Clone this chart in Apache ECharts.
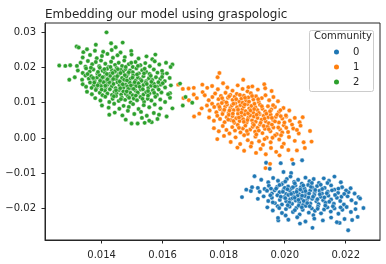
<!DOCTYPE html>
<html><head><meta charset="utf-8">
<script src="https://cdn.jsdelivr.net/npm/echarts@6/dist/echarts.min.js"></script>
<style>html,body{margin:0;padding:0;background:#fff}#c{width:386px;height:264px}</style>
</head><body><div id="c"></div>
<script>
const titleText = "Embedding our model using graspologic";
const legendTitle = "Community";
const categories = ["0", "1", "2"];
const xTicks = [0.014, 0.016, 0.018, 0.020, 0.022];
const yTicks = [-0.02, -0.01, 0.00, 0.01, 0.02, 0.03];

const community0 = [
[0.01860,-0.0167],[0.01987,-0.0071],[0.02028,-0.0073],[0.02057,-0.0063],[0.01939,-0.0070],[0.01951,-0.0087],[0.01996,-0.0096],[0.02021,-0.0099],[0.02258,-0.0198],[0.02242,-0.0167],[0.02209,-0.0153],[0.02239,-0.0223],[0.02091,-0.0254],[0.02208,-0.0261],[0.02050,-0.0242],[0.01979,-0.0233],[0.02180,-0.0240],[0.01901,-0.0108],[0.01889,-0.0150],[0.01874,-0.0146],[0.01912,-0.0141],
[0.01923,-0.0118],[0.01946,-0.0125],[0.01962,-0.0113],[0.01978,-0.0121],[0.01993,-0.0128],[0.02007,-0.0116],[0.02019,-0.0109],[0.02031,-0.0124],[0.02044,-0.0118],[0.02056,-0.0129],[0.02068,-0.0112],[0.02081,-0.0122],[0.02095,-0.0116],[0.02112,-0.0127],[0.02128,-0.0114],[0.02145,-0.0121],[0.02163,-0.0109],[0.02184,-0.0125],
[0.01893,-0.0139],[0.01918,-0.0152],[0.01934,-0.0144],[0.01948,-0.0135],[0.01958,-0.0157],[0.01967,-0.0148],[0.01975,-0.0138],[0.01983,-0.0153],[0.01990,-0.0131],[0.01997,-0.0145],[0.02004,-0.0158],[0.02011,-0.0137],[0.02017,-0.0149],[0.02023,-0.0142],[0.02029,-0.0155],[0.02035,-0.0134],[0.02041,-0.0147],[0.02047,-0.0159],[0.02053,-0.0139],[0.02059,-0.0151],[0.02065,-0.0143],[0.02071,-0.0156],[0.02077,-0.0133],[0.02084,-0.0148],[0.02091,-0.0140],[0.02098,-0.0154],[0.02106,-0.0136],[0.02114,-0.0149],[0.02122,-0.0157],[0.02131,-0.0141],[0.02141,-0.0152],[0.02152,-0.0134],[0.02163,-0.0146],[0.02175,-0.0155],[0.02188,-0.0139],[0.02201,-0.0148],[0.02216,-0.0142],[0.02229,-0.0157],[0.01942,-0.0149],[0.02000,-0.0141],
[0.01912,-0.0172],[0.01931,-0.0165],[0.01946,-0.0178],[0.01958,-0.0169],[0.01968,-0.0184],[0.01976,-0.0162],[0.01984,-0.0175],[0.01991,-0.0188],[0.01998,-0.0167],[0.02005,-0.0179],[0.02012,-0.0161],[0.02018,-0.0173],[0.02024,-0.0186],[0.02030,-0.0166],[0.02036,-0.0177],[0.02042,-0.0163],[0.02048,-0.0182],[0.02054,-0.0171],[0.02060,-0.0189],[0.02066,-0.0164],[0.02072,-0.0176],[0.02078,-0.0168],[0.02084,-0.0185],[0.02090,-0.0172],[0.02097,-0.0161],[0.02104,-0.0179],[0.02111,-0.0187],[0.02118,-0.0166],[0.02126,-0.0176],[0.02134,-0.0183],[0.02143,-0.0163],[0.02152,-0.0174],[0.02161,-0.0186],[0.02171,-0.0169],[0.02182,-0.0178],[0.02194,-0.0188],[0.02206,-0.0165],[0.02219,-0.0176],[0.02233,-0.0184],[0.02247,-0.0171],[0.02026,-0.0170],[0.02069,-0.0181],
[0.01943,-0.0196],[0.01961,-0.0205],[0.01977,-0.0193],[0.01991,-0.0212],[0.02004,-0.0201],[0.02016,-0.0194],[0.02027,-0.0209],[0.02038,-0.0198],[0.02049,-0.0216],[0.02059,-0.0203],[0.02069,-0.0192],[0.02079,-0.0211],[0.02089,-0.0199],[0.02099,-0.0206],[0.02109,-0.0194],[0.02119,-0.0213],[0.02129,-0.0202],[0.02140,-0.0196],[0.02151,-0.0208],[0.02163,-0.0199],[0.02176,-0.0214],[0.02189,-0.0203],[0.02203,-0.0195],[0.02217,-0.0209],[0.02232,-0.0201],[0.02046,-0.0191],[0.02094,-0.0218],[0.02003,-0.0219],
[0.01978,-0.0226],[0.02012,-0.0231],[0.02041,-0.0224],[0.02068,-0.0236],[0.02097,-0.0228],[0.02125,-0.0233],[0.02152,-0.0225],[0.02171,-0.0238],[0.02196,-0.0229],[0.02221,-0.0232],
[0.01972,-0.0143],[0.01987,-0.0166],[0.01994,-0.0152],[0.02002,-0.0170],[0.02009,-0.0145],[0.02015,-0.0182],[0.02021,-0.0158],[0.02027,-0.0139],[0.02033,-0.0169],[0.02039,-0.0152],[0.02045,-0.0175],[0.02051,-0.0146],[0.02057,-0.0163],[0.02062,-0.0178],[0.02068,-0.0150],[0.02074,-0.0184],[0.02080,-0.0157],[0.02086,-0.0138],[0.02093,-0.0166],[0.02100,-0.0147],[0.02107,-0.0173],[0.02115,-0.0159],[0.02123,-0.0144],[0.02130,-0.0168],[0.02138,-0.0156],[0.02146,-0.0180],[0.02155,-0.0148],[0.02165,-0.0161],[0.02176,-0.0143],[0.02186,-0.0166],[0.01953,-0.0162],[0.01961,-0.0182],[0.01955,-0.0143],[0.01982,-0.0198],[0.02010,-0.0190],[0.02033,-0.0204],[0.02056,-0.0196],[0.02082,-0.0193],[0.02108,-0.0200],[0.02133,-0.0191],[0.02158,-0.0193],[0.02183,-0.0196],[0.02033,-0.0128],[0.02061,-0.0134],[0.02089,-0.0127],[0.02118,-0.0132],[0.02140,-0.0127],[0.02002,-0.0123],[0.01983,-0.0133],[0.02195,-0.0158]
];

const community1 = [
[0.01786,0.0184],[0.01864,0.0165],[0.01933,0.0152],[0.01780,0.0172],[0.01881,0.0144],[0.01666,0.0139],[0.01685,0.0140],[0.01702,0.0142],[0.01730,0.0151],[0.01746,0.0142],[0.01731,0.0130],[0.01702,0.0123],[0.01668,0.0113],[0.01686,0.0107],[0.01703,0.0061],[0.01720,0.0069],[0.01651,0.0151],[0.02088,-0.0010],[0.02083,0.0020],[0.02062,-0.0012],[0.02059,0.0059],[0.02066,-0.0028],[0.02024,-0.0061],[0.01983,-0.0049],[0.01937,-0.0085],[0.01952,-0.0073],[0.02040,-0.0035],[0.02005,0.0061],
[0.01762,0.0147],[0.01781,0.0138],[0.01798,0.0155],[0.01812,0.0143],[0.01829,0.0134],[0.01846,0.0149],[0.01862,0.0139],[0.01878,0.0132],[0.01894,0.0146],[0.01912,0.0137],[0.01936,0.0141],[0.01957,0.0133],
[0.01712,0.0113],[0.01738,0.0121],[0.01751,0.0107],[0.01763,0.0116],[0.01772,0.0126],[0.01783,0.0110],[0.01791,0.0119],[0.01799,0.0104],[0.01806,0.0128],[0.01814,0.0114],[0.01822,0.0122],[0.01829,0.0108],[0.01836,0.0117],[0.01843,0.0125],[0.01851,0.0103],[0.01858,0.0112],[0.01866,0.0120],[0.01873,0.0106],[0.01881,0.0115],[0.01889,0.0127],[0.01897,0.0109],[0.01906,0.0118],[0.01915,0.0102],[0.01925,0.0113],[0.01937,0.0121],[0.01949,0.0107],[0.01963,0.0116],[0.01978,0.0104],
[0.01728,0.0084],[0.01745,0.0092],[0.01754,0.0078],[0.01762,0.0097],[0.01769,0.0088],[0.01776,0.0073],[0.01782,0.0094],[0.01788,0.0082],[0.01794,0.0099],[0.01799,0.0076],[0.01805,0.0089],[0.01811,0.0095],[0.01816,0.0071],[0.01822,0.0085],[0.01827,0.0092],[0.01833,0.0079],[0.01838,0.0098],[0.01844,0.0087],[0.01849,0.0073],[0.01855,0.0093],[0.01861,0.0081],[0.01866,0.0089],[0.01872,0.0076],[0.01878,0.0096],[0.01884,0.0084],[0.01891,0.0091],[0.01897,0.0072],[0.01904,0.0087],[0.01911,0.0079],[0.01919,0.0094],[0.01927,0.0083],[0.01936,0.0075],[0.01945,0.0090],[0.01956,0.0081],[0.01968,0.0088],[0.01981,0.0074],[0.01996,0.0085],[0.02015,0.0078],
[0.01752,0.0058],[0.01768,0.0049],[0.01779,0.0063],[0.01788,0.0054],[0.01796,0.0068],[0.01803,0.0045],[0.01810,0.0059],[0.01817,0.0066],[0.01823,0.0051],[0.01829,0.0062],[0.01835,0.0043],[0.01841,0.0056],[0.01847,0.0069],[0.01852,0.0048],[0.01858,0.0061],[0.01864,0.0053],[0.01869,0.0067],[0.01875,0.0044],[0.01881,0.0058],[0.01887,0.0064],[0.01893,0.0050],[0.01899,0.0061],[0.01905,0.0046],[0.01911,0.0057],[0.01918,0.0068],[0.01924,0.0052],[0.01931,0.0063],[0.01938,0.0047],[0.01946,0.0059],[0.01954,0.0066],[0.01962,0.0051],[0.01971,0.0060],[0.01981,0.0044],[0.01992,0.0055],[0.02004,0.0064],[0.02017,0.0049],[0.02033,0.0057],[0.02049,0.0045],
[0.01768,0.0028],[0.01784,0.0019],[0.01797,0.0034],[0.01809,0.0023],[0.01819,0.0013],[0.01828,0.0031],[0.01837,0.0021],[0.01846,0.0037],[0.01855,0.0016],[0.01863,0.0027],[0.01871,0.0035],[0.01879,0.0012],[0.01887,0.0024],[0.01895,0.0032],[0.01903,0.0018],[0.01911,0.0029],[0.01919,0.0038],[0.01927,0.0014],[0.01935,0.0026],[0.01944,0.0033],[0.01953,0.0019],[0.01963,0.0030],[0.01974,0.0011],[0.01985,0.0024],[0.01997,0.0036],[0.02011,0.0017],[0.02028,0.0027],[0.02046,0.0013],
[0.01779,-0.0003],[0.01801,0.0006],[0.01823,-0.0011],[0.01839,0.0002],[0.01854,-0.0017],[0.01867,0.0008],[0.01879,-0.0006],[0.01892,-0.0014],[0.01904,0.0004],[0.01916,-0.0009],[0.01929,-0.0019],[0.01941,0.0001],[0.01954,-0.0012],[0.01968,0.0007],[0.01982,-0.0004],[0.01997,-0.0016],[0.02014,0.0003],[0.02033,-0.0008],
[0.01845,-0.0027],[0.01867,-0.0036],[0.01889,-0.0024],[0.01906,-0.0042],[0.01921,-0.0031],[0.01938,-0.0046],[0.01955,-0.0028],[0.01972,-0.0039],[0.01991,-0.0025],[0.02012,-0.0034],
[0.01795,0.0113],[0.01809,0.0101],[0.01818,0.0118],[0.01832,0.0097],[0.01841,0.0110],[0.01853,0.0122],[0.01862,0.0100],[0.01870,0.0114],[0.01883,0.0103],[0.01893,0.0119],[0.01901,0.0097],[0.01913,0.0110],[0.01786,0.0088],[0.01802,0.0080],[0.01819,0.0078],[0.01830,0.0069],[0.01847,0.0080],[0.01858,0.0072],[0.01869,0.0095],[0.01880,0.0070],[0.01888,0.0078],[0.01900,0.0082],[0.01915,0.0071],[0.01925,0.0090],[0.01940,0.0069],[0.01952,0.0076],[0.01962,0.0093],[0.01975,0.0066],[0.01986,0.0079],[0.01815,0.0052],[0.01832,0.0048],[0.01850,0.0058],[0.01866,0.0046],[0.01878,0.0051],[0.01896,0.0041],[0.01908,0.0066],[0.01921,0.0043],[0.01934,0.0055],[0.01948,0.0042],[0.01958,0.0057],[0.01968,0.0047],[0.01987,0.0062],[0.01999,0.0044],[0.01850,0.0029],[0.01876,0.0020],[0.01899,0.0037],[0.01915,0.0021],[0.01931,0.0034],[0.01948,0.0025],[0.01958,0.0038],[0.01979,0.0030],[0.01992,0.0016],[0.02005,0.0029],[0.01907,0.0010],[0.01934,-0.0003],[0.01960,0.0001],[0.01988,0.0008],[0.02024,0.0038],[0.02040,0.0023],[0.02052,0.0035]
];

const community2 = [
[0.01416,0.0299],[0.01261,0.0205],[0.01281,0.0204],[0.01294,0.0165],[0.01319,0.0204],[0.01318,0.0259],[0.01325,0.0256],[0.01340,0.0243],[0.01381,0.0264],[0.01431,0.0268],[0.01469,0.0270],[0.01446,0.0257],[0.01576,0.0236],[0.01632,0.0208],[0.01600,0.0182],[0.01657,0.0154],[0.01632,0.0084],[0.01613,0.0061],[0.01425,0.0066],[0.01498,0.0041],[0.01518,0.0041],[0.01564,0.0045],[0.01624,0.0127],[0.01624,0.0114],[0.01675,0.0116],[0.01666,0.0092],[0.01697,0.0100],
[0.01352,0.0251],[0.01378,0.0247],[0.01405,0.0244],[0.01433,0.0249],[0.01462,0.0242],[0.01497,0.0246],
[0.01338,0.0228],[0.01362,0.0235],[0.01384,0.0226],[0.01401,0.0232],[0.01419,0.0238],[0.01437,0.0227],[0.01452,0.0234],[0.01476,0.0229],[0.01498,0.0236],[0.01521,0.0225],[0.01547,0.0231],[0.01566,0.0223],
[0.01297,0.0206],[0.01331,0.0213],[0.01347,0.0202],[0.01355,0.0218],[0.01369,0.0209],[0.01381,0.0215],[0.01392,0.0203],[0.01398,0.0219],[0.01412,0.0210],[0.01423,0.0201],[0.01431,0.0216],[0.01444,0.0207],[0.01456,0.0213],[0.01467,0.0204],[0.01474,0.0219],[0.01489,0.0209],[0.01502,0.0201],[0.01511,0.0215],[0.01527,0.0206],[0.01543,0.0212],[0.01558,0.0203],[0.01574,0.0217],[0.01589,0.0208],[0.01611,0.0213],[0.01626,0.0201],
[0.01322,0.0191],[0.01338,0.0184],[0.01349,0.0197],[0.01361,0.0188],[0.01373,0.0194],[0.01386,0.0182],[0.01394,0.0199],[0.01403,0.0190],[0.01411,0.0185],[0.01418,0.0196],[0.01427,0.0181],[0.01434,0.0192],[0.01441,0.0187],[0.01449,0.0198],[0.01457,0.0183],[0.01463,0.0193],[0.01471,0.0188],[0.01478,0.0195],[0.01486,0.0181],[0.01493,0.0191],[0.01502,0.0186],[0.01514,0.0197],[0.01522,0.0183],[0.01533,0.0192],[0.01546,0.0187],[0.01557,0.0181],[0.01571,0.0194],[0.01583,0.0185],[0.01598,0.0190],[0.01614,0.0183],
[0.01312,0.0172],[0.01336,0.0165],[0.01347,0.0177],[0.01358,0.0168],[0.01366,0.0175],[0.01377,0.0162],[0.01385,0.0171],[0.01393,0.0178],[0.01399,0.0166],[0.01407,0.0173],[0.01414,0.0161],[0.01421,0.0169],[0.01428,0.0176],[0.01435,0.0164],[0.01442,0.0172],[0.01448,0.0167],[0.01455,0.0179],[0.01461,0.0162],[0.01467,0.0170],[0.01474,0.0165],[0.01481,0.0174],[0.01488,0.0160],[0.01495,0.0168],[0.01503,0.0177],[0.01511,0.0163],[0.01519,0.0171],[0.01528,0.0166],[0.01537,0.0175],[0.01546,0.0161],[0.01555,0.0169],[0.01566,0.0164],[0.01578,0.0172],[0.01592,0.0167],[0.01607,0.0161],[0.01623,0.0170],
[0.01338,0.0152],[0.01349,0.0145],[0.01362,0.0157],[0.01374,0.0149],[0.01383,0.0141],[0.01391,0.0154],[0.01398,0.0147],[0.01406,0.0158],[0.01413,0.0143],[0.01419,0.0151],[0.01426,0.0156],[0.01433,0.0146],[0.01439,0.0153],[0.01446,0.0141],[0.01452,0.0158],[0.01459,0.0149],[0.01465,0.0155],[0.01472,0.0143],[0.01478,0.0151],[0.01485,0.0146],[0.01492,0.0157],[0.01499,0.0141],[0.01506,0.0152],[0.01513,0.0147],[0.01521,0.0155],[0.01529,0.0144],[0.01537,0.0150],[0.01545,0.0157],[0.01553,0.0142],[0.01562,0.0148],[0.01571,0.0154],[0.01582,0.0145],[0.01594,0.0151],[0.01608,0.0143],[0.01627,0.0149],
[0.01352,0.0131],[0.01368,0.0124],[0.01381,0.0136],[0.01394,0.0128],[0.01403,0.0121],[0.01411,0.0134],[0.01419,0.0126],[0.01427,0.0138],[0.01434,0.0122],[0.01442,0.0131],[0.01449,0.0127],[0.01457,0.0136],[0.01464,0.0123],[0.01471,0.0132],[0.01479,0.0125],[0.01487,0.0139],[0.01494,0.0128],[0.01502,0.0121],[0.01511,0.0134],[0.01519,0.0127],[0.01528,0.0137],[0.01537,0.0123],[0.01546,0.0130],[0.01557,0.0126],[0.01568,0.0135],[0.01581,0.0122],[0.01596,0.0129],[0.01618,0.0124],
[0.01379,0.0113],[0.01396,0.0106],[0.01412,0.0117],[0.01425,0.0102],[0.01436,0.0111],[0.01447,0.0119],[0.01456,0.0105],[0.01466,0.0114],[0.01477,0.0108],[0.01486,0.0118],[0.01495,0.0101],[0.01505,0.0112],[0.01516,0.0107],[0.01527,0.0116],[0.01539,0.0103],[0.01551,0.0111],[0.01563,0.0106],[0.01576,0.0117],[0.01592,0.0109],[0.01608,0.0102],
[0.01401,0.0092],[0.01423,0.0086],[0.01441,0.0097],[0.01458,0.0083],[0.01472,0.0091],[0.01489,0.0088],[0.01503,0.0096],[0.01521,0.0082],[0.01538,0.0093],[0.01556,0.0087],[0.01574,0.0095],[0.01593,0.0084],
[0.01443,0.0072],[0.01468,0.0064],[0.01486,0.0077],[0.01507,0.0068],[0.01529,0.0074],[0.01548,0.0063],[0.01571,0.0071],[0.01588,0.0066],
[0.01479,0.0052],[0.01532,0.0057],[0.01556,0.0049],[0.01583,0.0054],[0.01541,0.0043],
[0.01403,0.0172],[0.01417,0.0181],[0.01425,0.0158],[0.01438,0.0167],[0.01444,0.0189],[0.01451,0.0175],[0.01459,0.0160],[0.01462,0.0184],[0.01469,0.0152],[0.01476,0.0178],[0.01483,0.0163],[0.01489,0.0186],[0.01496,0.0149],[0.01501,0.0171],[0.01508,0.0158],[0.01516,0.0180],[0.01524,0.0145],[0.01531,0.0162],[0.01539,0.0183],[0.01548,0.0153],[0.01409,0.0195],[0.01395,0.0162],[0.01388,0.0187],[0.01372,0.0170],[0.01365,0.0199],[0.01354,0.0181],[0.01429,0.0201],[0.01447,0.0135],[0.01461,0.0141],[0.01482,0.0132],[0.01505,0.0139],[0.01518,0.0129],[0.01535,0.0138],[0.01552,0.0133],[0.01563,0.0159],[0.01575,0.0146],[0.01586,0.0158],[0.01561,0.0176],[0.01541,0.0196],[0.01519,0.0204],[0.01497,0.0213],[0.01479,0.0201],[0.01453,0.0195],[0.01436,0.0184],[0.01419,0.0166],[0.01412,0.0148],[0.01400,0.0137],[0.01387,0.0149],[0.01376,0.0157],[0.01367,0.0142],[0.01440,0.0118],[0.01463,0.0110],[0.01490,0.0114],[0.01512,0.0120],[0.01534,0.0111],[0.01552,0.0120],[0.01572,0.0128],[0.01587,0.0137],[0.01600,0.0155],[0.01598,0.0173]
];

const colors = ["#1f77b4", "#ff7f0e", "#2ca02c"];
const seriesData = [community0, community1, community2];
const font = "DejaVu Sans";
const fmtY = v => (v < 0 ? "\u2212" : "") + Math.abs(v).toFixed(2);

const chart = echarts.init(document.getElementById("c"), null, {renderer: "canvas"});
chart.setOption({
  animation: false,
  backgroundColor: "#fff",
  title: {text: titleText, left: 40, top: 4, textStyle: {fontFamily: font, fontSize: 12, fontWeight: "normal", color: "#262626"}},
  grid: {left: 45, right: 6, top: 23, bottom: 24, show: true, borderColor: "#262626", borderWidth: 1, backgroundColor: "transparent"},
  xAxis: {type: "value", min: 0.012144, max: 0.023123,
    axisLine: {show: true, onZero: false, lineStyle: {color: "#262626", width: 1}},
    axisTick: {show: true, length: 3.5, lineStyle: {color: "#262626"}, customValues: xTicks},
    axisLabel: {customValues: xTicks, formatter: v => v.toFixed(3), fontFamily: font, fontSize: 10, color: "#262626", margin: 10},
    splitLine: {show: false}},
  yAxis: {type: "value", min: -0.02884, max: 0.03254,
    axisLine: {show: true, onZero: false, lineStyle: {color: "#262626", width: 1}},
    axisTick: {show: true, length: 3.5, lineStyle: {color: "#262626"}, customValues: yTicks},
    axisLabel: {customValues: yTicks, formatter: fmtY, fontFamily: font, fontSize: 10, color: "#262626", margin: 9},
    splitLine: {show: false}},
  legend: {orient: "vertical", left: 327, top: 41, itemWidth: 7, itemHeight: 7, itemGap: 3, icon: "circle", z: 20,
    data: categories, textStyle: {fontFamily: font, fontSize: 10, color: "#262626", lineHeight: 12, padding: [0,0,0,8]}},
  graphic: [
    {type: "rect", left: 309, top: 30, shape: {width: 64, height: 61, r: 2}, style: {fill: "rgba(255,255,255,0.8)", stroke: "#cccccc", lineWidth: 1}, z: 10},
    {type: "text", left: 314, top: 31, style: {text: legendTitle, font: "10px DejaVu Sans", fill: "#262626"}, z: 11}
  ],
  series: categories.map((c, i) => ({
    name: c, type: "scatter", data: seriesData[i], symbolSize: 4.4,
    itemStyle: {color: colors[i], borderColor: "#ffffff", borderWidth: 0.4, opacity: 1}
  }))
});
</script></body></html>
